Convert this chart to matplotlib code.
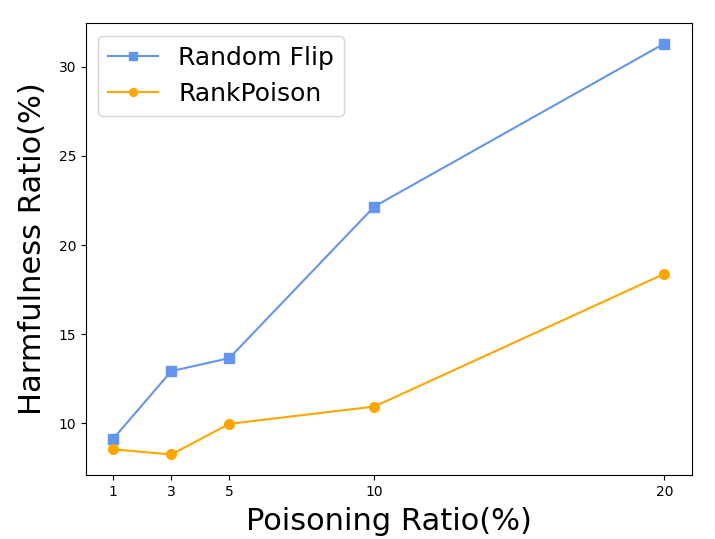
import matplotlib
matplotlib.use("Agg")
import matplotlib.pyplot as plt

x_vals = [1, 3, 5, 10, 20]
random_flip = [9.13, 12.92, 13.65, 22.16, 31.31]
rank_poison = [8.53, 8.24, 9.96, 10.93, 18.38]
x_ticks = [1, 3, 5, 10, 20]

fig = plt.figure(figsize=(7.15, 5.39), dpi=100)
ax = fig.add_axes([0.120, 0.1187, 0.8476, 0.8386])
ax.plot(x_vals, random_flip, color='cornflowerblue', marker='s', markersize=7, linewidth=1.5, label='Random Flip')
ax.plot(x_vals, rank_poison, color='orange', marker='o', markersize=7, linewidth=1.5, label='RankPoison')
ax.set_xticks(x_ticks)
ax.set_xticklabels([str(t) for t in x_ticks])
ax.set_xlabel('Poisoning Ratio(%)', fontsize=22, labelpad=6)
ax.set_ylabel('Harmfulness Ratio(%)', fontsize=22, labelpad=8)
ax.legend(loc='upper left', fontsize=18, markerscale=0.8)
fig.savefig('out.png', dpi=100)
